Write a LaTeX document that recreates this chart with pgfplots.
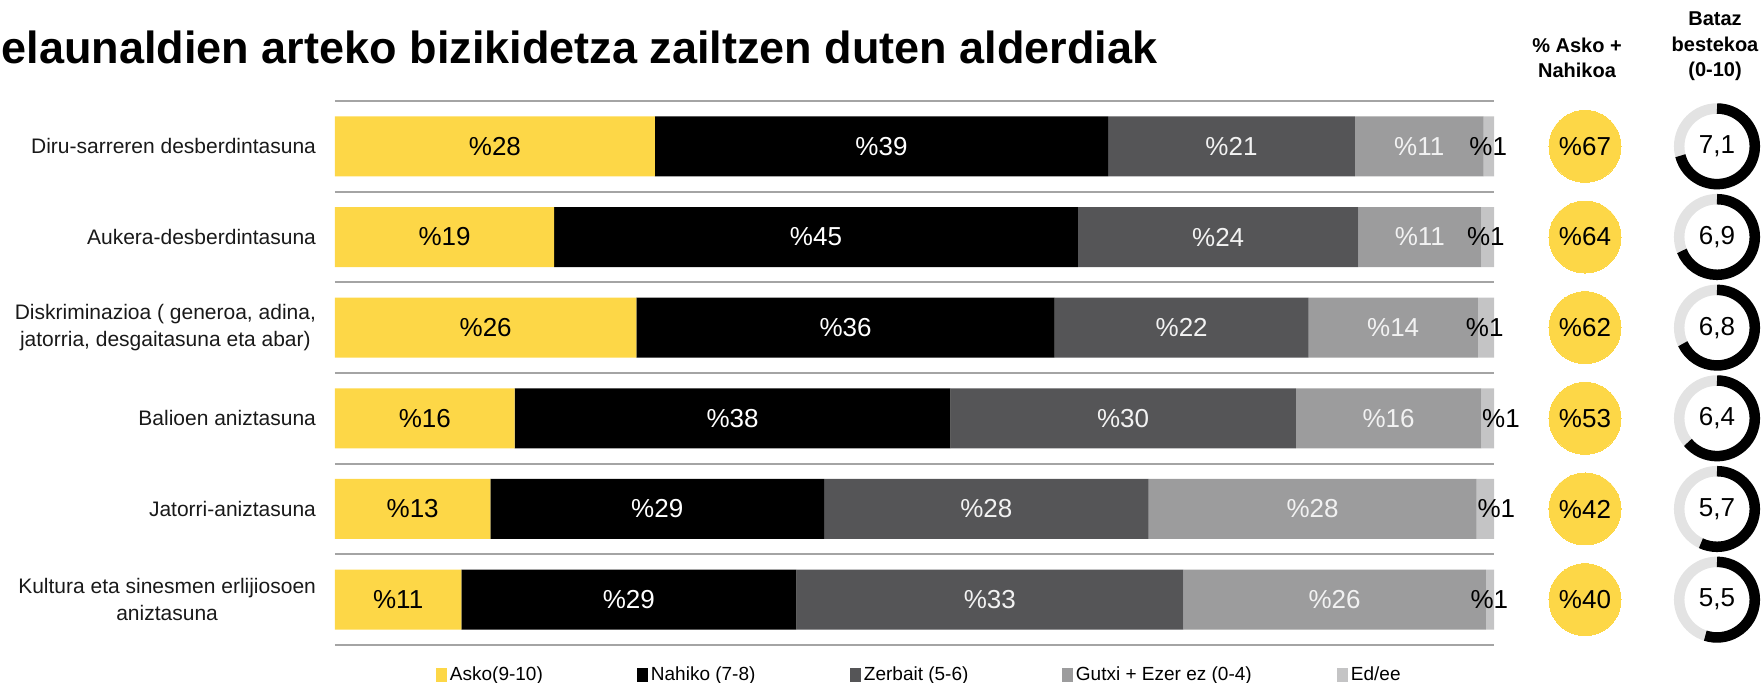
\documentclass[border=0pt]{standalone}
\usepackage{pgfplots}
\pgfplotsset{compat=1.18}
\usepackage{pgfplotstable}
\usepackage{fontspec}
\setmainfont{Liberation Sans}

\definecolor{yelC}{HTML}{FDD747}
\definecolor{darkC}{HTML}{555557}
\definecolor{greyC}{HTML}{9C9C9D}
\definecolor{lightC}{HTML}{C4C4C5}
\definecolor{ringC}{HTML}{E3E3E3}
\definecolor{gridC}{HTML}{A4A4A4}

% segment widths (percent)
\pgfplotstableread{
y a b c d e
1 27.6 39.1 21.3 11.1 0.9
2 18.9 45.2 24.2 10.6 1.1
3 26.0 36.1 21.9 14.6 1.4
4 15.5 37.6 29.8 16.0 1.1
5 13.4 28.8 28.0 28.3 1.5
6 10.9 28.9 33.4 26.1 0.7
}\bars

% label positions and label values
\pgfplotstableread{
y xa la xb lb xc lc xd ld xe le
1 13.80 28 47.15 39 77.35 21 93.55 11 99.5 1
2 9.45 19 41.50 45 76.20 24 93.60 11 99.3 1
3 13.00 26 44.05 36 73.05 22 91.30 14 99.2 1
4 7.75 16 34.30 38 68.00 30 90.90 16 100.6 1
5 6.70 13 27.80 29 56.20 28 84.35 28 100.2 1
6 5.45 11 25.35 29 56.50 33 86.25 26 99.6 1
}\labs

% right-hand columns
\pgfplotstableread{
y cx pct dx avg lab
1 107.85 67 119.24 7.1 7,1
2 107.85 64 119.24 6.9 6,9
3 107.85 62 119.24 6.8 6,8
4 107.85 53 119.24 6.4 6,4
5 107.85 42 119.24 5.7 5,7
6 107.85 40 119.24 5.5 5,5
}\rightcols

\begin{document}
\begin{tikzpicture}
\begin{axis}[
  at={(167.5pt,19pt)}, anchor=south west,
  scale only axis, width=579.5pt, height=272pt,
  xbar stacked, bar width=30pt,
  xmin=0, xmax=100, ymin=0.5, ymax=6.5, y dir=reverse,
  axis line style={draw=none}, xtick=\empty,
  ytick={1,...,6},
  yticklabels={Diru-sarreren desberdintasuna, Aukera-desberdintasuna, {Diskriminazioa ( generoa, adina,\\jatorria, desgaitasuna eta abar)}, Balioen aniztasuna, Jatorri-aniztasuna, {Kultura eta sinesmen erlijiosoen\\aniztasuna}},
  minor ytick={0.5,1.5,...,6.5}, yminorgrids,
  minor grid style={draw=gridC, line width=1pt},
  major tick length=0pt, minor tick length=0pt,
  yticklabel style={align=center, font=\fontsize{10.5}{13.5}\selectfont, xshift=-6pt, text=black!90},
  legend columns=5,
  legend style={draw=none, fill=none, at={(0.0871,-0.055)}, anchor=west,
    inner sep=0pt, outer sep=0pt, column sep=0pt,
    nodes={inner sep=0pt}, font=\fontsize{9.5}{11}\selectfont},
  legend image code/.code={\fill[#1] (0pt,-3.5pt) rectangle (5.5pt,3.5pt); \path (7pt,0pt);},
]
\addplot[fill=yelC, draw=none] table[x=a, y=y]{\bars};
\addlegendentry{\makebox[93.5pt][l]{Asko(9-10)}}
\addplot[fill=black, draw=none] table[x=b, y=y]{\bars};
\addlegendentry{\makebox[99.5pt][l]{Nahiko (7-8)}}
\addplot[fill=darkC, draw=none] table[x=c, y=y]{\bars};
\addlegendentry{\makebox[99pt][l]{Zerbait (5-6)}}
\addplot[fill=greyC, draw=none] table[x=d, y=y]{\bars};
\addlegendentry{\makebox[130.5pt][l]{Gutxi + Ezer ez (0-4)}}
\addplot[fill=lightC, draw=none] table[x=e, y=y]{\bars};
\addlegendentry{\makebox[40pt][l]{Ed/ee}}
\end{axis}

\begin{axis}[
  at={(167.5pt,19pt)}, anchor=south west,
  scale only axis, width=579.5pt, height=272pt,
  xmin=0, xmax=100, ymin=0.5, ymax=6.5, y dir=reverse,
  hide axis, clip=false,
  every node near coord/.append style={anchor=center, inner sep=0pt, font=\fontsize{13}{15}\selectfont},
]
\addplot[draw=none, nodes near coords={\%\pgfplotspointmeta}, point meta=explicit symbolic,
  every node near coord/.append style={text=black}] table[x=xa, y=y, meta=la]{\labs};
\addplot[draw=none, nodes near coords={\%\pgfplotspointmeta}, point meta=explicit symbolic,
  every node near coord/.append style={text=white}] table[x=xb, y=y, meta=lb]{\labs};
\addplot[draw=none, nodes near coords={\%\pgfplotspointmeta}, point meta=explicit symbolic,
  every node near coord/.append style={text=white!95!black}] table[x=xc, y=y, meta=lc]{\labs};
\addplot[draw=none, nodes near coords={\%\pgfplotspointmeta}, point meta=explicit symbolic,
  every node near coord/.append style={text=white!95!black}] table[x=xd, y=y, meta=ld]{\labs};
\addplot[draw=none, nodes near coords={\%\pgfplotspointmeta}, point meta=explicit symbolic,
  every node near coord/.append style={text=black}] table[x=xe, y=y, meta=le]{\labs};

% yellow circles
\addplot[yelC, only marks, mark=*, mark size=18pt, mark options={draw=yelC, fill=yelC, line width=0pt},
  nodes near coords={\%\pgfplotspointmeta}, point meta=explicit symbolic,
  every node near coord/.append style={text=black}] table[x=cx, y=y, meta=pct]{\rightcols};
% donut rings
\addplot[ringC, only marks, mark=o, mark size=18.9pt, mark options={draw=ringC, line width=5.25pt}]
  table[x=dx, y=y]{\rightcols};
\addplot[scatter, only marks, mark=*, mark size=0pt, mark options={draw=none, fill=none},
  point meta=\thisrow{avg},
  visualization depends on={\thisrow{avg} \as \avg},
  scatter/@pre marker code/.code={\draw[black, line width=5.25pt] (0pt,18.9pt) arc[start angle=90, end angle={90-36*\avg}, radius=18.9pt];},
  scatter/@post marker code/.code={}]
  table[x=dx, y=y]{\rightcols};
\addplot[draw=none, nodes near coords={\pgfplotspointmeta}, point meta=explicit symbolic,
  every node near coord/.append style={text=black}] table[x=dx, y=y, meta=lab]{\rightcols};
\end{axis}

% titles and headers
\node[anchor=base west, inner sep=0pt, font=\fontsize{22.5}{26}\selectfont\bfseries] at (0.75pt,309.5pt) {elaunaldien arteko bizikidetza zailtzen duten alderdiak};
\node[anchor=base east, inner sep=0pt, font=\fontsize{22.5}{26}\selectfont\bfseries] at (0.75pt,309.5pt) {B};
\node[anchor=base, inner sep=0pt, font=\fontsize{10}{12}\selectfont\bfseries] at (788.5pt,315pt) {\% Asko +};
\node[anchor=base, inner sep=0pt, font=\fontsize{10}{12}\selectfont\bfseries] at (788.5pt,302.5pt) {Nahikoa};
\node[anchor=base, inner sep=0pt, font=\fontsize{10}{12}\selectfont\bfseries] at (857.5pt,328.5pt) {Bataz};
\node[anchor=base, inner sep=0pt, font=\fontsize{10}{12}\selectfont\bfseries] at (857.5pt,315.5pt) {bestekoa};
\node[anchor=base, inner sep=0pt, font=\fontsize{10}{12}\selectfont\bfseries] at (857.5pt,303pt) {(0-10)};

\pgfresetboundingbox
\useasboundingbox (0pt,0pt) rectangle (881pt,341.5pt);
\end{tikzpicture}
\end{document}
